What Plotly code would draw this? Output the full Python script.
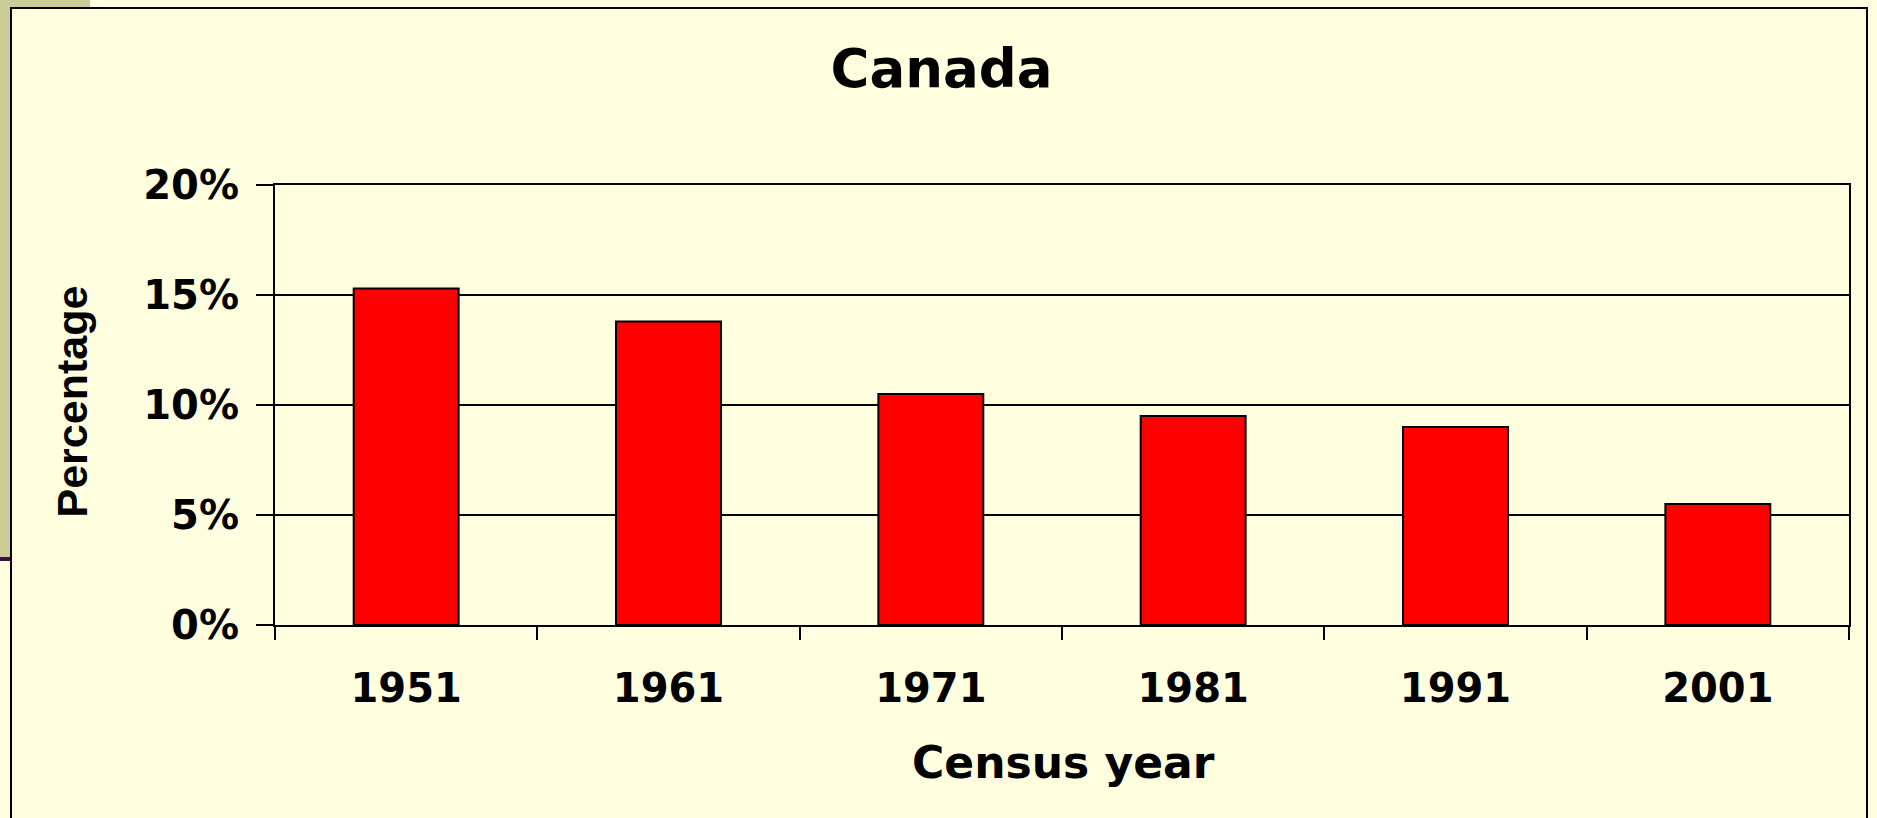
import plotly.graph_objects as go

years = ["1951", "1961", "1971", "1981", "1991", "2001"]
share = [15.3, 13.8, 10.5, 9.5, 9.0, 5.5]
y_ticks = [0, 5, 10, 15, 20]
y_tick_text = ["0%", "5%", "10%", "15%", "20%"]

W, H = 1877, 818
L, R, T, B = 275, 28, 185, 193
PW = W - L - R
PH = H - T - B

BG = "#FFFFE0"
BOLD = "DejaVu Sans"

def px(x):
    return (x - L) / PW

def py(y):
    return (H - B - y) / PH

fig = go.Figure()
fig.add_trace(go.Bar(
    x=years, y=share,
    marker=dict(color="#FF0000", line=dict(color="black", width=2)),
    hoverinfo="skip",
))

fig.update_layout(
    width=W, height=H,
    margin=dict(l=L, r=R, t=T, b=B, pad=0),
    paper_bgcolor=BG, plot_bgcolor=BG,
    bargap=0.6,
    showlegend=False,
    title=dict(
        text="<b>Canada</b>",
        x=941.5 / W, xref="container", xanchor="center",
        y=1 - 68 / H, yref="container", yanchor="middle",
        font=dict(family=BOLD, size=53, color="black"),
    ),
    xaxis=dict(
        type="category",
        showline=True, linecolor="black", linewidth=2, mirror=True,
        ticks="outside", tickson="boundaries", ticklen=13, tickwidth=1.5, tickcolor="black",
        tickfont=dict(family=BOLD, size=40, color="black", weight="bold"),
        ticklabelstandoff=27,
        showgrid=False,
    ),
    yaxis=dict(
        range=[0, 20],
        tickvals=y_ticks, ticktext=y_tick_text,
        showline=True, linecolor="black", linewidth=2, mirror=True,
        ticks="outside", ticklen=17, tickwidth=1.5, tickcolor="black",
        tickfont=dict(family=BOLD, size=40, color="black", weight="bold"),
        ticklabelstandoff=9,
        showgrid=True, gridcolor="black", gridwidth=2,
        zeroline=False,
    ),
)

fig.add_annotation(
    text="<b>Census year</b>", xref="paper", yref="paper",
    x=px(1063), y=py(762), xanchor="center", yanchor="middle",
    showarrow=False, font=dict(family=BOLD, size=44, color="black"),
)
fig.add_annotation(
    text="<b>Percentage</b>", xref="paper", yref="paper",
    x=px(71), y=py(401.5), xanchor="center", yanchor="middle", textangle=-90,
    showarrow=False, font=dict(family="Liberation Sans", size=43, color="black"),
)

# slide decoration: khaki strips at top-left and frame around the chart area
fig.add_shape(type="rect", xref="paper", yref="paper",
              x0=px(0), x1=px(10), y0=py(557), y1=py(0),
              fillcolor="#CCCC99", line=dict(width=0), layer="below")
fig.add_shape(type="rect", xref="paper", yref="paper",
              x0=px(0), x1=px(90), y0=py(8), y1=py(0),
              fillcolor="#CCCC99", line=dict(width=0), layer="below")
fig.add_shape(type="rect", xref="paper", yref="paper",
              x0=px(0), x1=px(11), y0=py(561), y1=py(557),
              fillcolor="#3A1040", line=dict(width=0), layer="below")
fig.add_shape(type="rect", xref="paper", yref="paper",
              x0=px(11), x1=px(1867), y0=py(840), y1=py(8),
              fillcolor="rgba(0,0,0,0)", line=dict(color="black", width=2), layer="below")

fig.write_html(
    "out.html",
    config={"displayModeBar": False},
    post_script="document.body.style.margin='0';document.body.style.overflow='hidden';",
)
